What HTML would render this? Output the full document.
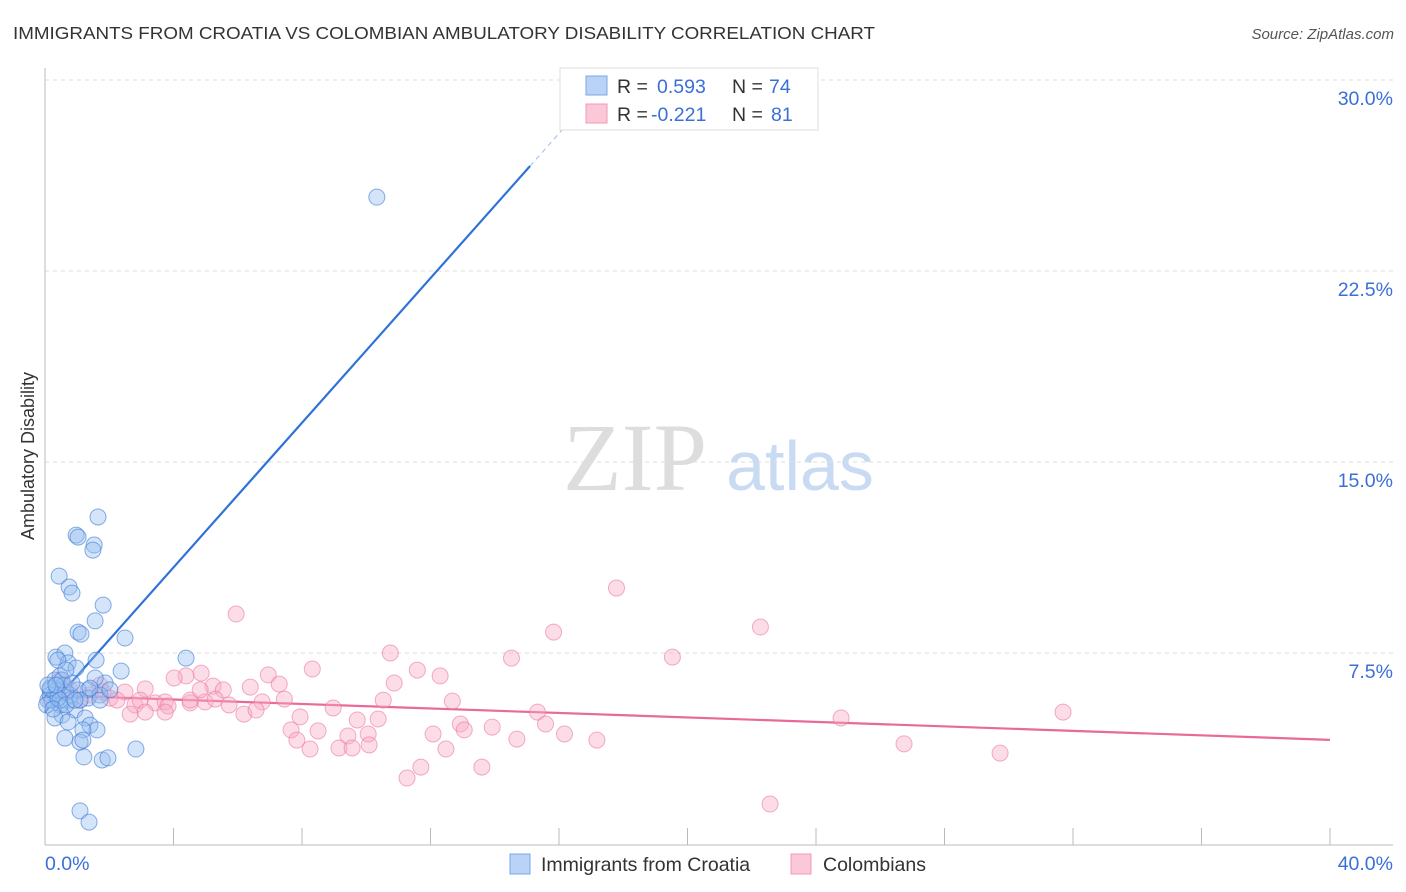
<!DOCTYPE html>
<html><head><meta charset="utf-8"><style>
body{margin:0;background:#fff;font-family:"Liberation Sans",sans-serif;}
svg{display:block}
</style></head><body>
<svg id="chart" width="1406" height="892" xmlns="http://www.w3.org/2000/svg">
<text x="13" y="39" font-size="17.5" fill="#333" textLength="862" lengthAdjust="spacingAndGlyphs" font-family="Liberation Sans, sans-serif">IMMIGRANTS FROM CROATIA VS COLOMBIAN AMBULATORY DISABILITY CORRELATION CHART</text>
<text x="1394" y="39" font-size="15" fill="#555" font-style="italic" text-anchor="end">Source: ZipAtlas.com</text>
<g>
<text x="635" y="490" font-size="96" fill="#ddd" text-anchor="middle" font-family="Liberation Serif, serif">ZIP</text>
<text x="800" y="490" font-size="70" fill="#c9daf3" text-anchor="middle">atlas</text>
</g>
<g id="grid"></g>
<g id="axes"></g>
<text transform="translate(34,456) rotate(-90)" font-size="18" fill="#333" text-anchor="middle">Ambulatory Disability</text>
<g id="lines"></g>
<g id="pts"></g>
<g>
<rect x="560" y="68" width="258" height="62" fill="#fff" stroke="#ddd"/>
<rect x="586" y="76" width="21" height="19" fill="#b8d3f5" stroke="#7aa7e6"/>
<rect x="586" y="104" width="21" height="19" fill="#fbc8d7" stroke="#f09ab4"/>
<text x="617" y="93" font-size="19.5" fill="#333">R = </text><text x="657" y="93" font-size="19.5" fill="#3a6fd8">0.593</text>
<text x="732" y="93" font-size="19.5" fill="#333">N = </text><text x="769" y="93" font-size="19.5" fill="#3a6fd8">74</text>
<text x="617" y="121" font-size="19.5" fill="#333">R = </text><text x="651" y="121" font-size="19.5" fill="#3a6fd8">-0.221</text>
<text x="732" y="121" font-size="19.5" fill="#333">N = </text><text x="771" y="121" font-size="19.5" fill="#3a6fd8">81</text>
</g>
<g>
<rect x="510" y="854" width="20" height="20" fill="#b8d3f5" stroke="#7aa7e6"/>
<text x="541" y="871" font-size="19.5" fill="#333">Immigrants from Croatia</text>
<rect x="791" y="854" width="20" height="20" fill="#fbc8d7" stroke="#f09ab4"/>
<text x="823" y="871" font-size="19.5" fill="#333">Colombians</text>
</g>
</svg>
<script>
const yTicks=[7.5,15,22.5,30];
const yTickLabels=["7.5%","15.0%","22.5%","30.0%"];
const xTicks=[0,4,8,12,16,20,24,28,32,36,40];
const xLabels=["0.0%","40.0%"];
const blueX=[10.33,1.65,0.97,1.03,1.53,1.49,0.44,0.75,0.84,1.81,1.56,1.03,1.12,2.49,0.34,0.62,0.72,1.59,4.39,2.37,0.97,0.31,0.47,1.87,1.56,1.34,0.59,0.16,0.31,0.78,0.47,0.93,1.34,1.71,0.09,0.53,0.31,0.72,1.25,1.40,1.62,1.18,0.62,1.09,1.18,1.21,1.78,1.96,2.83,1.09,1.37,0.16,0.22,0.37,0.47,0.05,0.78,1.03,0.65,0.40,0.16,0.53,0.84,1.09,0.25,0.09,0.34,0.65,1.40,1.71,0.40,0.65,2.02,0.93];
const blueY=[25.40,12.84,12.13,12.05,11.74,11.54,10.52,10.09,9.85,9.38,8.76,8.32,8.24,8.09,7.34,7.50,7.11,7.22,7.30,6.79,6.91,6.44,6.60,6.32,6.52,6.05,6.24,6.05,5.85,5.65,5.46,5.26,5.73,5.85,5.65,5.06,4.95,4.79,4.95,4.67,4.48,4.48,4.16,4.00,4.08,3.42,3.30,3.38,3.73,1.30,0.86,5.85,5.65,6.05,5.65,5.46,5.85,6.05,5.97,5.73,6.12,6.44,6.32,5.65,5.30,6.24,6.24,5.46,6.12,5.65,7.22,6.83,6.05,5.65];
const pinkX=[17.79,5.95,15.83,22.27,10.75,14.52,19.53,8.32,11.59,12.30,6.95,4.86,4.39,4.02,10.87,7.29,6.39,5.23,5.55,3.12,2.49,1.81,2.02,2.24,2.80,3.43,3.74,3.83,4.52,4.98,5.30,5.73,6.76,7.45,8.97,10.53,12.68,15.33,7.94,9.72,10.37,12.93,13.05,13.92,15.58,16.17,7.66,8.50,9.43,10.06,12.08,7.84,8.25,9.15,9.56,10.09,12.48,14.69,17.18,24.78,31.69,26.74,29.73,11.27,11.70,13.60,22.57,2.65,6.19,6.57,4.52,2.96,3.74,0.47,0.78,1.09,1.71,3.12,4.83,0.16,1.40];
const pinkY=[10.05,9.03,8.32,8.52,7.50,7.30,7.34,6.87,6.83,6.60,6.64,6.71,6.60,6.52,6.32,6.28,6.16,6.20,6.05,6.09,5.97,5.97,5.73,5.65,5.46,5.54,5.58,5.42,5.54,5.58,5.69,5.46,5.58,5.69,5.34,5.65,5.61,5.18,4.99,4.87,4.91,4.71,4.48,4.59,4.71,4.32,4.48,4.44,4.24,4.32,4.32,4.08,3.73,3.77,3.77,3.89,3.73,4.12,4.08,4.95,5.18,3.93,3.57,2.59,3.02,3.02,1.57,5.10,5.10,5.26,5.65,5.65,5.18,6.44,6.05,5.65,6.24,5.18,6.05,5.65,5.85];
const blueTrend=[5.18,1.42]; // intercept, slope
const pinkTrend=[5.85,-0.044];
const blueSolidEnd=15.1, blueDashEnd=17.1;

const NS="http://www.w3.org/2000/svg";
const X0=45,X1=1330,Y0=844,PXY=191/7.5;
const xs=v=>X0+v/40*(X1-X0);
const ys=v=>Y0-v*PXY;
function mk(tag,attrs,parent){const e=document.createElementNS(NS,tag);for(const k in attrs)e.setAttribute(k,attrs[k]);parent.appendChild(e);return e;}
const grid=document.getElementById('grid'),axes=document.getElementById('axes');
yTicks.forEach((t,i)=>{
  const l=mk('line',{x1:X0,x2:1393,y1:ys(t),y2:ys(t),stroke:'#ddd','stroke-dasharray':'4,4'},grid);
  
  
  const tx=mk('text',{x:1393,y:ys(t)+25,'font-size':19.5,fill:'#3a6fd8','text-anchor':'end'},axes);
  tx.textContent=yTickLabels[i];
  
  
});
const la=mk('line',{x1:X0,x2:X0,y1:68,y2:845,stroke:'#bbb'},axes);


const ba=mk('line',{x1:X0,x2:1393,y1:845,y2:845,stroke:'#bbb'},axes);


xTicks.forEach(t=>{
  const l=mk('line',{x1:xs(t),x2:xs(t),y1:828,y2:845,stroke:'#bbb'},axes);
  
  
});
[[0,'start',45],[40,'end',1393]].forEach((a,i)=>{
  const tx=mk('text',{x:a[2],y:870,'font-size':19.5,fill:'#3a6fd8','text-anchor':a[1]},axes);
  tx.textContent=xLabels[i];
  
  
});
const pts=document.getElementById('pts');
pinkX.forEach((x,i)=>{
  const c=mk('circle',{cx:xs(x),cy:ys(pinkY[i]),r:8,fill:'rgba(248,170,195,0.4)',stroke:'rgba(236,120,160,0.6)','stroke-width':1},pts);
  
  
});
blueX.forEach((x,i)=>{
  const c=mk('circle',{cx:xs(x),cy:ys(blueY[i]),r:8,fill:'rgba(150,190,240,0.4)',stroke:'rgba(60,120,215,0.6)','stroke-width':1},pts);
  
  
});
const lines=document.getElementById('lines');
const bl=mk('line',{x1:xs(0),y1:ys(blueTrend[0]),x2:xs(blueSolidEnd),y2:ys(blueTrend[0]+blueTrend[1]*blueSolidEnd),stroke:'#2f72d8','stroke-width':2.2},lines);


const bd=mk('line',{x1:xs(blueSolidEnd),y1:ys(blueTrend[0]+blueTrend[1]*blueSolidEnd),x2:xs(blueDashEnd),y2:ys(blueTrend[0]+blueTrend[1]*blueDashEnd),stroke:'#9bbcec','stroke-width':1,'stroke-dasharray':'5,4'},lines);


const pl=mk('line',{x1:xs(0),y1:ys(pinkTrend[0]),x2:xs(40),y2:ys(pinkTrend[0]+pinkTrend[1]*40),stroke:'#e8699a','stroke-width':2.2},lines);


</script>
</body></html>
